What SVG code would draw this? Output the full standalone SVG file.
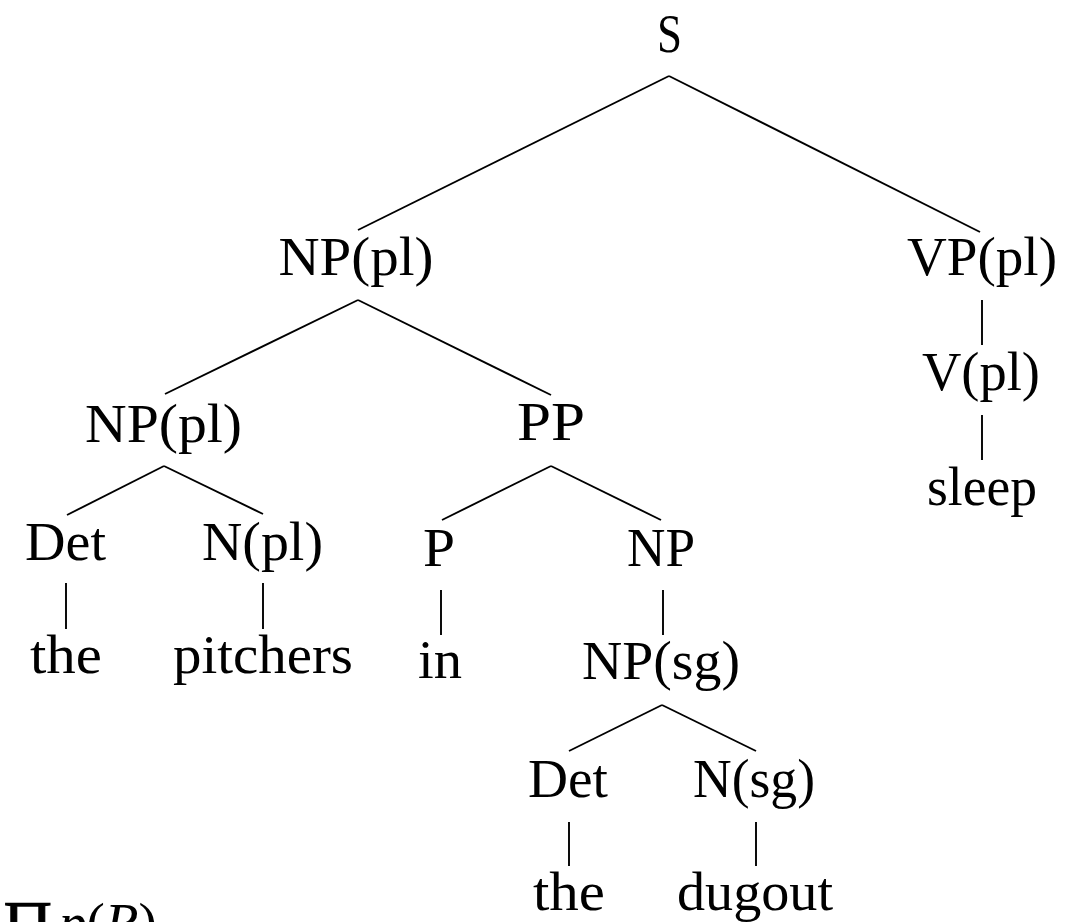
<svg xmlns="http://www.w3.org/2000/svg" width="1073" height="922" viewBox="0 0 1073 922">
<style>
.t{font-family:"Liberation Serif","DejaVu Serif",serif;font-size:55px;fill:#000;text-anchor:middle}
.e line{stroke:#000;stroke-width:1.9;stroke-linecap:butt}
.m{font-family:"Liberation Serif","DejaVu Serif",serif;fill:#000;font-size:55px}
</style>
<rect width="1073" height="922" fill="#fff"/>
<g id="edges" class="e">
<line x1="669" y1="76" x2="358" y2="230"/>
<line x1="669" y1="76" x2="980" y2="232"/>
<line x1="358" y1="300" x2="165" y2="394"/>
<line x1="358" y1="300" x2="551" y2="395"/>
<line x1="982" y1="300" x2="982" y2="345"/>
<line x1="982" y1="415" x2="982" y2="460"/>
<line x1="164" y1="466" x2="67" y2="515"/>
<line x1="164" y1="466" x2="263" y2="514"/>
<line x1="551" y1="466" x2="442" y2="520"/>
<line x1="551" y1="466" x2="661" y2="520"/>
<line x1="66" y1="583" x2="66" y2="629"/>
<line x1="263" y1="583" x2="263" y2="629"/>
<line x1="441" y1="590" x2="441" y2="635"/>
<line x1="663" y1="590" x2="663" y2="635"/>
<line x1="662" y1="705" x2="569" y2="751"/>
<line x1="662" y1="705" x2="756" y2="751"/>
<line x1="569" y1="822" x2="569" y2="866"/>
<line x1="756" y1="822" x2="756" y2="866"/>
</g>
<g id="n-S"><text class="t" x="669.5" y="52" textLength="25" lengthAdjust="spacingAndGlyphs">S</text></g>
<g id="n-NPpl1"><text class="t" x="356" y="275" textLength="155" lengthAdjust="spacingAndGlyphs">NP(pl)</text></g>
<g id="n-VPpl"><text class="t" x="982" y="275" textLength="150" lengthAdjust="spacingAndGlyphs">VP(pl)</text></g>
<g id="n-Vpl"><text class="t" x="981" y="390" textLength="118" lengthAdjust="spacingAndGlyphs">V(pl)</text></g>
<g id="n-sleep"><text class="t" x="982" y="505" textLength="110" lengthAdjust="spacingAndGlyphs">sleep</text></g>
<g id="n-NPpl2"><text class="t" x="163.5" y="442" textLength="157" lengthAdjust="spacingAndGlyphs">NP(pl)</text></g>
<g id="n-PP"><text class="t" x="551" y="440" textLength="68" lengthAdjust="spacingAndGlyphs">PP</text></g>
<g id="n-Det1"><text class="t" x="65.5" y="560" textLength="81" lengthAdjust="spacingAndGlyphs">Det</text></g>
<g id="n-Npl"><text class="t" x="262.5" y="560" textLength="121" lengthAdjust="spacingAndGlyphs">N(pl)</text></g>
<g id="n-P"><text class="t" x="439" y="566" textLength="32" lengthAdjust="spacingAndGlyphs">P</text></g>
<g id="n-NP"><text class="t" x="661" y="566" textLength="68" lengthAdjust="spacingAndGlyphs">NP</text></g>
<g id="n-the1"><text class="t" x="66" y="673" textLength="72" lengthAdjust="spacingAndGlyphs">the</text></g>
<g id="n-pitchers"><text class="t" x="263" y="673" textLength="180" lengthAdjust="spacingAndGlyphs">pitchers</text></g>
<g id="n-in"><text class="t" x="440" y="678" textLength="44" lengthAdjust="spacingAndGlyphs">in</text></g>
<g id="n-NPsg"><text class="t" x="661" y="679" textLength="158" lengthAdjust="spacingAndGlyphs">NP(sg)</text></g>
<g id="n-Det2"><text class="t" x="568" y="797" textLength="80" lengthAdjust="spacingAndGlyphs">Det</text></g>
<g id="n-Nsg"><text class="t" x="754" y="797" textLength="122" lengthAdjust="spacingAndGlyphs">N(sg)</text></g>
<g id="n-the2"><text class="t" x="569" y="910" textLength="72" lengthAdjust="spacingAndGlyphs">the</text></g>
<g id="n-dugout"><text class="t" x="755" y="910" textLength="156" lengthAdjust="spacingAndGlyphs">dugout</text></g>
<g id="formula">
<text class="m" x="2" y="941"><tspan font-size="62" dy="3" stroke="#000" stroke-width="1.2">∏</tspan><tspan dx="6" dy="-3" font-style="italic">p</tspan>(<tspan font-style="italic">R</tspan>)</text>
</g>
</svg>
